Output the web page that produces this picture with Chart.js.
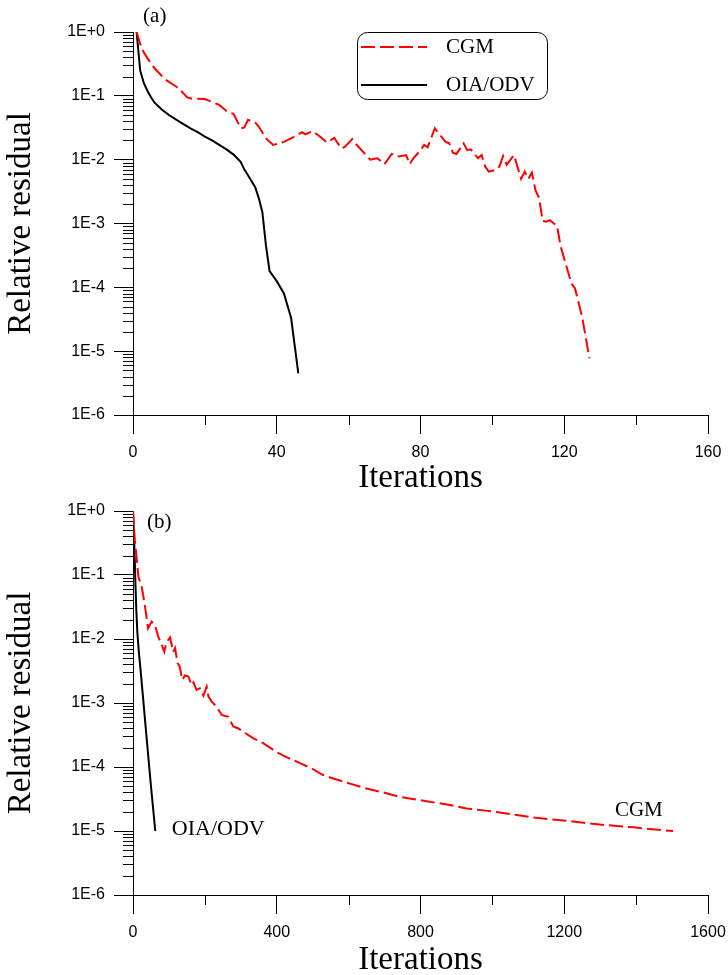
<!DOCTYPE html>
<html>
<head>
<meta charset="utf-8">
<script src="https://cdn.jsdelivr.net/npm/chart.js@4.4.1/dist/chart.umd.min.js"></script>
<style>
  html, body { margin: 0; padding: 0; background: #fff; overflow: hidden; }
  .box { position: absolute; left: 0; width: 728px; }
  #boxA { top: 0; height: 500px; }
  #boxB { top: 487px; height: 495px; }
</style>
</head>
<body>
<div class="box" id="boxA"><canvas id="chartA"></canvas></div>
<div class="box" id="boxB"><canvas id="chartB"></canvas></div>
<script>
// ---- data ----

// (a)
const cgmAIter = [1, 2, 3, 4, 6, 9, 12, 14, 15, 16, 20, 24, 26, 28, 30, 31, 32, 34, 35, 37, 39, 42, 45, 47, 48, 50, 52, 54, 56, 57, 58, 59, 61, 62, 64, 66, 68, 70, 72, 74, 76, 77, 78, 80, 81, 82, 84, 85, 87, 88, 89, 90, 92, 93, 94, 96, 97, 98, 99, 101, 102, 103, 104, 106, 108, 109, 110, 111, 112, 113, 114, 115, 116, 118, 119, 122, 123, 125, 127]
const cgmAVal = [1, 0.65, 0.48, 0.39, 0.27, 0.18, 0.14, 0.11, 0.095, 0.091, 0.089, 0.072, 0.058, 0.052, 0.031, 0.032, 0.042, 0.038, 0.033, 0.0215, 0.017, 0.019, 0.023, 0.027, 0.025, 0.028, 0.023, 0.0185, 0.022, 0.018, 0.015, 0.016, 0.021, 0.0177, 0.0133, 0.010, 0.0105, 0.0085, 0.0123, 0.0112, 0.0118, 0.0085, 0.0105, 0.014, 0.017, 0.0157, 0.031, 0.026, 0.019, 0.018, 0.0129, 0.0123, 0.018, 0.0141, 0.0145, 0.0105, 0.0118, 0.0078, 0.0065, 0.0069, 0.0079, 0.0114, 0.0083, 0.0118, 0.005, 0.0065, 0.005, 0.0063, 0.0033, 0.0025, 0.0011, 0.00107, 0.00113, 0.00091, 0.00044, 0.000115, 0.000096, 0.000034, 0.0000077]
const oiaAIter = [1, 2, 3, 4, 5, 6, 8, 10, 13, 16, 18, 20, 22, 24, 26, 28, 30, 31, 32, 33, 34, 35, 36, 37, 38, 40, 42, 44, 46]
const oiaAVal = [1, 0.25, 0.16, 0.12, 0.095, 0.078, 0.061, 0.05, 0.039, 0.031, 0.027, 0.023, 0.02, 0.017, 0.0145, 0.012, 0.0092, 0.007, 0.0057, 0.0046, 0.0037, 0.0025, 0.0015, 0.00045, 0.00018, 0.000125, 0.00008, 0.000033, 0.0000045]

// (b)
const cgmBIter = [0, 5, 10, 15, 24, 29, 35, 42, 52, 61, 70, 80, 87, 93, 103, 112, 117, 124, 130, 137, 145, 154, 163, 168, 177, 186, 196, 205, 210, 219, 233, 247, 265, 279, 293, 312, 335, 360, 400, 430, 465, 502, 529, 557, 604, 650, 697, 743, 789, 836, 882, 928, 975, 1021, 1067, 1114, 1160, 1207, 1253, 1299, 1346, 1392, 1438, 1503]
const cgmBVal = [1, 0.35, 0.19, 0.094, 0.066, 0.046, 0.028, 0.0147, 0.0187, 0.0166, 0.011, 0.0081, 0.0063, 0.0088, 0.0106, 0.0063, 0.0072, 0.0042, 0.0037, 0.0023, 0.0027, 0.0026, 0.0019, 0.0021, 0.0016, 0.0017, 0.0013, 0.0018, 0.00126, 0.00105, 0.00087, 0.00065, 0.00061, 0.00043, 0.0004, 0.00034, 0.00028, 0.00024, 0.00017, 0.00014, 0.000115, 0.000092, 0.000075, 0.000066, 0.000055, 0.000046, 0.00004, 0.000034, 0.000031, 0.000028, 0.0000255, 0.0000225, 0.000021, 0.0000195, 0.0000178, 0.0000163, 0.0000152, 0.0000144, 0.0000135, 0.0000126, 0.000012, 0.0000114, 0.0000107, 0.00001]
const oiaBIter = [0, 3, 6, 9, 12, 16, 20, 30, 38, 50, 62]
const oiaBVal = [1, 0.4, 0.1, 0.03, 0.013, 0.0065, 0.0038, 0.0009, 0.00028, 0.00005, 0.00001]

// axes
const yTicks = [1e-6, 1e-5, 1e-4, 1e-3, 1e-2, 1e-1, 1]
const yTickLabels = ['1E-6', '1E-5', '1E-4', '1E-3', '1E-2', '1E-1', '1E+0']
const xTicksA = [0, 40, 80, 120, 160]
const xMinorA = [20, 60, 100, 140]
const xTicksB = [0, 400, 800, 1200, 1600]
const xMinorB = [200, 600, 1000, 1400]
const seriesNames = ['CGM', 'OIA/ODV']

// minor log ticks 2..9 in every decade
const yMinor = []
for (let e = -6; e < 0; e++) {
  for (let k = 2; k <= 9; k++) yMinor.push(k * Math.pow(10, e))
}

const toPoints = (xs, ys) => xs.map((x, i) => ({ x: x, y: ys[i] }))

const tickFont = { family: "'Liberation Sans', Arial, sans-serif", size: 16 }
const titleFont = { family: "'Liberation Serif', 'Times New Roman', serif", size: 33 }
const serif = "'Liberation Serif', 'Times New Roman', serif"

// minor ticks, text notes and the boxed legend
const decor = {
  id: 'decor',
  afterDraw(chart, args, opts) {
    const { ctx, chartArea } = chart
    const xs = chart.scales.x
    const ys = chart.scales.y
    ctx.save()
    ctx.strokeStyle = '#000'
    ctx.lineWidth = 1
    ctx.beginPath()
    yMinor.forEach(v => {
      const py = Math.round(ys.getPixelForValue(v)) + 0.5
      ctx.moveTo(chartArea.left - 10, py)
      ctx.lineTo(chartArea.left, py)
    })
    opts.xMinor.forEach(v => {
      const px = Math.round(xs.getPixelForValue(v)) + 0.5
      ctx.moveTo(px, chartArea.bottom)
      ctx.lineTo(px, chartArea.bottom + 10)
    })
    ctx.stroke()

    ctx.fillStyle = '#000'
    ctx.textBaseline = 'middle'
    ctx.textAlign = 'left'
    opts.notes.forEach(n => {
      ctx.font = n.size + 'px ' + serif
      ctx.fillText(n.text, xs.getPixelForValue(n.x), ys.getPixelForValue(n.y))
    })

    const lg = opts.legend
    if (lg) {
      ctx.beginPath()
      ctx.roundRect(lg.left + 0.5, lg.top + 0.5, lg.width, lg.height, 10)
      ctx.stroke()
      ctx.font = '21px ' + serif
      chart.data.datasets.forEach((ds, i) => {
        const y = lg.top + 15 + i * 38
        ctx.save()
        ctx.strokeStyle = ds.borderColor
        ctx.lineWidth = ds.borderWidth
        ctx.setLineDash(ds.borderDash || [])
        ctx.beginPath()
        ctx.moveTo(lg.left + 4, y)
        ctx.lineTo(lg.left + 70, y)
        ctx.stroke()
        ctx.restore()
        ctx.fillText(ds.label, lg.left + 89, y)
      })
    }
    ctx.restore()
  }
}

function makeChart(id, cfg) {
  return new Chart(document.getElementById(id), {
    type: 'line',
    data: {
      datasets: [
        { label: seriesNames[0], data: toPoints(cfg.cgmIter, cfg.cgmVal), borderColor: '#ff0000', borderWidth: 2, borderDash: [14, 5], pointRadius: 0, tension: 0, fill: false },
        { label: seriesNames[1], data: toPoints(cfg.oiaIter, cfg.oiaVal), borderColor: '#000000', borderWidth: 2, pointRadius: 0, tension: 0, fill: false }
      ]
    },
    options: {
      responsive: true,
      maintainAspectRatio: false,
      animation: false,
      layout: { padding: { top: cfg.padTop, right: 20, left: 0, bottom: 0 } },
      plugins: {
        legend: { display: false },
        tooltip: { enabled: false },
        decor: { xMinor: cfg.xMinor, notes: cfg.notes, legend: cfg.legend }
      },
      scales: {
        x: {
          type: 'linear',
          min: 0,
          max: cfg.xTicks[cfg.xTicks.length - 1],
          afterBuildTicks: s => { s.ticks = cfg.xTicks.map(v => ({ value: v })) },
          afterFit: s => { s.height = cfg.xHeight; s.paddingLeft = 0; s.paddingRight = 0 },
          grid: { drawOnChartArea: false, tickLength: 19, tickColor: '#000', tickWidth: 1, color: '#000' },
          border: { color: '#000', width: 1 },
          ticks: { font: tickFont, color: '#000', padding: 9, maxRotation: 0, autoSkip: false, callback: v => String(v) },
          title: { display: true, text: 'Iterations', font: titleFont, color: '#000', padding: { top: 0, bottom: 2 } }
        },
        y: {
          type: 'logarithmic',
          min: 1e-6,
          max: 1,
          afterBuildTicks: s => { s.ticks = yTicks.map(v => ({ value: v })) },
          afterFit: s => { s.width = 133; s.paddingTop = 0; s.paddingBottom = 0 },
          grid: { drawOnChartArea: false, tickLength: 19, tickColor: '#000', tickWidth: 1, color: '#000' },
          border: { color: '#000', width: 1 },
          ticks: { font: tickFont, color: '#000', padding: 9, autoSkip: false, callback: (v, i) => yTickLabels[i] },
          title: { display: true, text: 'Relative residual', font: titleFont, color: '#000', padding: { top: 2, bottom: 0 } }
        }
      }
    },
    plugins: [decor]
  })
}

makeChart('chartA', {
  cgmIter: cgmAIter, cgmVal: cgmAVal, oiaIter: oiaAIter, oiaVal: oiaAVal,
  xTicks: xTicksA, xMinor: xMinorA, padTop: 32, xHeight: 85,
  notes: [{ text: '(a)', x: 2.8, y: 1.78, size: 21 }],
  legend: { left: 357, top: 32, width: 190, height: 67 }
})

makeChart('chartB', {
  cgmIter: cgmBIter, cgmVal: cgmBVal, oiaIter: oiaBIter, oiaVal: oiaBVal,
  xTicks: xTicksB, xMinor: xMinorB, padTop: 24, xHeight: 87,
  notes: [
    { text: '(b)', x: 39, y: 0.65, size: 21 },
    { text: 'OIA/ODV', x: 108, y: 1.07e-5, size: 22 },
    { text: 'CGM', x: 1341, y: 2.1e-5, size: 21 }
  ],
  legend: null
})
</script>
</body>
</html>
